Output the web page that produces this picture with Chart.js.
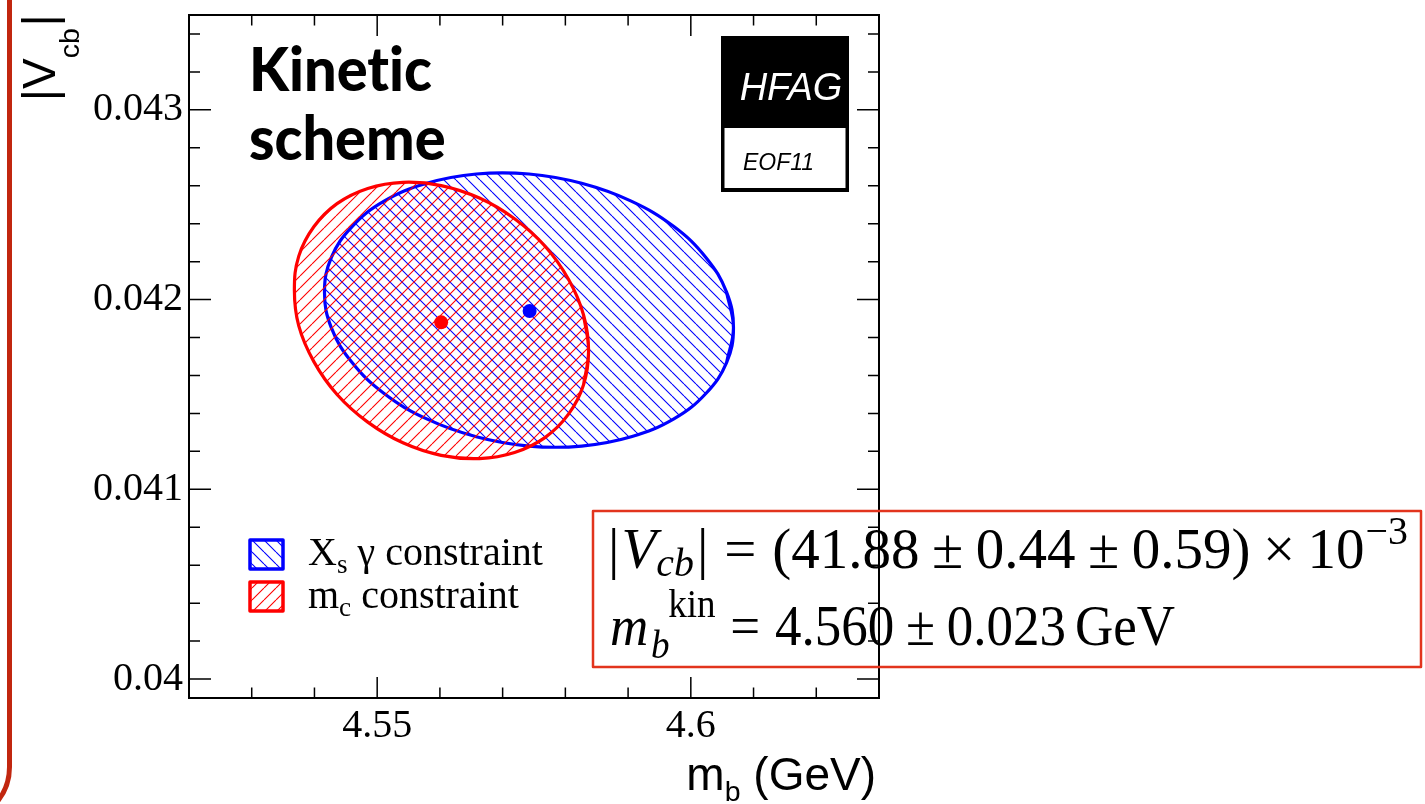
<!DOCTYPE html>
<html><head><meta charset="utf-8">
<script src="https://cdn.jsdelivr.net/npm/chart.js@4.4.1/dist/chart.umd.min.js"></script>
<style>html,body{margin:0;padding:0;background:#fff;}#wrap{position:relative;width:1425px;height:804px;overflow:hidden;background:#fff;}canvas{display:block;}</style>
</head><body><div id="wrap"><canvas id="c" width="1425" height="804"></canvas></div>
<script>
// ---------------- data ----------------
const mbRange = [4.52, 4.63];
const vcbRange = [0.0399, 0.0435];
const xMajorTicks = [4.55, 4.6];
const xTickLabels = ['4.55', '4.6'];
const xMinorTicks = [4.53, 4.54, 4.56, 4.57, 4.58, 4.59, 4.61, 4.62];
const yMajorTicks = [0.040, 0.041, 0.042, 0.043];
const yTickLabels = ['0.04', '0.041', '0.042', '0.043'];
const yMinorTicks = [0.0402, 0.0404, 0.0406, 0.0408, 0.0412, 0.0414, 0.0416, 0.0418,
                     0.0422, 0.0424, 0.0426, 0.0428, 0.0432, 0.0434];

// X_s gamma constraint contour (m_b, |Vcb|)
const xsGammaMb  = [4.6068, 4.6057, 4.6024, 4.5973, 4.5905, 4.5826, 4.5742, 4.5658,
                    4.5579, 4.5511, 4.5460, 4.5427, 4.5416, 4.5427, 4.5460, 4.5511,
                    4.5579, 4.5658, 4.5742, 4.5826, 4.5905, 4.5973, 4.6024, 4.6057];
const xsGammaVcb = [0.041851, 0.041668, 0.041505, 0.041371, 0.041277, 0.041228, 0.041228, 0.041277,
                    0.041371, 0.041505, 0.041668, 0.041851, 0.042039, 0.042222, 0.042385, 0.042519,
                    0.042613, 0.042662, 0.042662, 0.042613, 0.042519, 0.042385, 0.042222, 0.042039];
// m_c constraint contour
const mcMb  = [4.5837, 4.5829, 4.5805, 4.5768, 4.5719, 4.5663, 4.5602, 4.5541,
               4.5485, 4.5436, 4.5399, 4.5375, 4.5368, 4.5375, 4.5399, 4.5436,
               4.5485, 4.5541, 4.5602, 4.5663, 4.5719, 4.5768, 4.5805, 4.5829];
const mcVcb = [0.041730, 0.041551, 0.041396, 0.041274, 0.041194, 0.041162, 0.041179, 0.041245,
               0.041354, 0.041500, 0.041673, 0.041861, 0.042050, 0.042229, 0.042384, 0.042506,
               0.042586, 0.042618, 0.042601, 0.042535, 0.042426, 0.042280, 0.042107, 0.041919];
const xsGammaCenter = [4.5743, 0.04194];
const mcCenter = [4.5602, 0.04188];

// ---------------- styles ----------------
const BLUE = '#0000ff', RED = '#ff0000';
const SERIF = '"Liberation Serif","Times New Roman",serif';
const SANS = '"Liberation Sans",Arial,Helvetica,sans-serif';

function hatch(color, dir) {
  const s = 12, c = document.createElement('canvas');
  c.width = s; c.height = s;
  const g = c.getContext('2d');
  g.strokeStyle = color; g.lineWidth = 1.1;
  g.beginPath();
  for (const x0 of [-s, 0, s]) {
    if (dir === 'back') { g.moveTo(x0, 0); g.lineTo(x0 + s, s); }
    else { g.moveTo(x0, s); g.lineTo(x0 + s, 0); }
  }
  g.stroke();
  return document.createElement('canvas').getContext('2d').createPattern(c, 'repeat');
}
const blueHatch = hatch(BLUE, 'back');
const redHatch = hatch(RED, 'fwd');

function closedLoop(xs, ys) {
  const pts = xs.map((x, i) => ({x, y: ys[i]}));
  return [pts[pts.length - 1], ...pts, pts[0], pts[1]];
}

function layoutRuns(ctx, runs) {
  let x = 0; const items = [];
  for (const r of runs) {
    ctx.font = r.f; x += (r.gap || 0);
    items.push({r, x});
    if (!r.noAdv) x += ctx.measureText(r.t).width;
  }
  return {items, width: x};
}
function paintRuns(ctx, lay) {
  for (const {r, x} of lay.items) { ctx.font = r.f; ctx.fillText(r.t, x, r.dy || 0); }
}

// ---------------- plugins ----------------
const framePlugin = {
  id: 'frame',
  afterDatasetsDraw(chart) {
    const {ctx, chartArea: a, scales: {x, y}} = chart;
    ctx.save();
    ctx.strokeStyle = '#000'; ctx.lineWidth = 1.5;
    ctx.beginPath();
    const xt = (v, L) => { const p = x.getPixelForValue(v);
      ctx.moveTo(p, a.bottom); ctx.lineTo(p, a.bottom - L); ctx.moveTo(p, a.top); ctx.lineTo(p, a.top + L); };
    const yt = (v, L) => { const p = y.getPixelForValue(v);
      ctx.moveTo(a.left, p); ctx.lineTo(a.left + L, p); ctx.moveTo(a.right, p); ctx.lineTo(a.right - L, p); };
    xMajorTicks.forEach(v => xt(v, 21)); xMinorTicks.forEach(v => xt(v, 10.5));
    yMajorTicks.forEach(v => yt(v, 22)); yMinorTicks.forEach(v => yt(v, 11));
    ctx.stroke();
    ctx.lineWidth = 2;
    ctx.strokeRect(a.left, a.top, a.right - a.left, a.bottom - a.top);
    ctx.restore();
  }
};

const annoPlugin = {
  id: 'anno',
  afterDraw(chart) {
    const ctx = chart.ctx;
    ctx.save();
    ctx.textAlign = 'left'; ctx.textBaseline = 'alphabetic';
    // slide border
    ctx.strokeStyle = '#c1260f'; ctx.lineWidth = 5;
    ctx.beginPath(); ctx.moveTo(9.5, -5); ctx.lineTo(9.5, 767);
    ctx.arc(-45.5, 767, 55, 0, Math.PI / 2); ctx.stroke();

    // Kinetic scheme (ZWNJ avoids the "ti" ligature)
    ctx.fillStyle = '#000';
    ctx.font = '900 61px Lato, "Open Sans", sans-serif';
    const w1 = ctx.measureText('Kinet\u200Cic').width;
    const ks = 183 / w1;
    ctx.save(); ctx.translate(249, 91); ctx.scale(ks, 1);
    ctx.fillText('Kinet\u200Cic', 0, 0); ctx.fillText('scheme', 0, 69);
    ctx.restore();

    // HFAG logo
    ctx.fillStyle = '#000'; ctx.fillRect(721, 36, 128, 156);
    ctx.fillStyle = '#fff'; ctx.fillRect(724.5, 128, 121, 60);
    ctx.font = 'italic 38px ' + SANS; ctx.textAlign = 'center';
    ctx.fillText('HFAG', 791, 100);
    ctx.fillStyle = '#000'; ctx.textAlign = 'left';
    ctx.font = 'italic 23px ' + SANS;
    ctx.fillText('EOF11', 743, 170);

    // legend
    const boxes = [[BLUE, blueHatch, 540], [RED, redHatch, 582]];
    for (const [col, pat, top] of boxes) {
      ctx.fillStyle = pat; ctx.fillRect(250, top, 33, 29);
      ctx.strokeStyle = col; ctx.lineWidth = 3.5; ctx.lineJoin = 'round';
      ctx.strokeRect(250, top, 33, 29);
    }
    ctx.fillStyle = '#000';
    const L = 40;
    const leg1 = [{t: 'X', f: `${L}px ${SERIF}`}, {t: 's', f: `${L * 0.68}px ${SERIF}`, dy: 8},
                  {t: ' \u03b3 constraint', f: `${L}px ${SERIF}`}];
    const leg2 = [{t: 'm', f: `${L}px ${SERIF}`}, {t: 'c', f: `${L * 0.68}px ${SERIF}`, dy: 8},
                  {t: ' constraint', f: `${L}px ${SERIF}`}];
    ctx.save(); ctx.translate(308, 565); paintRuns(ctx, layoutRuns(ctx, leg1)); ctx.restore();
    ctx.save(); ctx.translate(308, 608); paintRuns(ctx, layoutRuns(ctx, leg2)); ctx.restore();

    // axis titles
    const T = 46;
    const ytitle = [{t: '|', f: `${T}px ${SANS}`}, {t: 'V', f: `${T}px ${SANS}`},
                    {t: 'cb', f: `${T * 0.62}px ${SANS}`, dy: 24}, {t: '|', f: `${T}px ${SANS}`, gap: 2}];
    ctx.save(); ctx.translate(55, 101); ctx.rotate(-Math.PI / 2);
    paintRuns(ctx, layoutRuns(ctx, ytitle)); ctx.restore();
    const xtitle = [{t: 'm', f: `${T}px ${SANS}`}, {t: 'b', f: `${T * 0.62}px ${SANS}`, dy: 11},
                    {t: ' (GeV)', f: `${T}px ${SANS}`}];
    let lay = layoutRuns(ctx, xtitle);
    ctx.save(); ctx.translate(876 - lay.width, 790); paintRuns(ctx, lay); ctx.restore();

    // result box
    ctx.strokeStyle = '#e2341d'; ctx.lineWidth = 2.5;
    ctx.strokeRect(593, 511, 828, 156);
    const F = 56;
    const R = `${F}px ${SERIF}`, I = `italic ${F}px ${SERIF}`;
    const Rs = `${F * 0.7}px ${SERIF}`, Is = `italic ${F * 0.7}px ${SERIF}`;
    const line1 = [{t: '|', f: R}, {t: 'V', f: I, gap: 2}, {t: 'cb', f: Is, dy: 8},
      {t: '|', f: R, gap: 3}, {t: '=', f: R, gap: 0.28 * F}, {t: '(', f: R, gap: 0.28 * F},
      {t: '41.88', f: R}, {t: '\u00b1', f: R, gap: 0.22 * F}, {t: '0.44', f: R, gap: 0.22 * F},
      {t: '\u00b1', f: R, gap: 0.22 * F}, {t: '0.59', f: R, gap: 0.22 * F}, {t: ')', f: R},
      {t: '\u00d7', f: R, gap: 0.22 * F}, {t: '10', f: R, gap: 0.22 * F},
      {t: '\u22123', f: Rs, dy: -0.42 * F, gap: 1}];
    const line2 = [{t: 'm', f: I}, {t: 'b', f: Is, dy: 0.24 * F, noAdv: true, gap: 3},
      {t: 'kin', f: Rs, dy: -0.5 * F, gap: 18}, {t: '=', f: R, gap: 0.28 * F},
      {t: '4.560', f: R, gap: 0.28 * F}, {t: '\u00b1', f: R, gap: 0.22 * F},
      {t: '0.023', f: R, gap: 0.22 * F}, {t: 'GeV', f: R, gap: 0.17 * F}];
    ctx.fillStyle = '#000';
    lay = layoutRuns(ctx, line1);
    ctx.save(); ctx.translate(608, 568); ctx.scale(800 / lay.width, 1); paintRuns(ctx, lay); ctx.restore();
    lay = layoutRuns(ctx, line2);
    ctx.save(); ctx.translate(610, 645); ctx.scale(565 / lay.width, 1); paintRuns(ctx, lay); ctx.restore();
    ctx.restore();
  }
};

// ---------------- chart ----------------
new Chart(document.getElementById('c'), {
  type: 'scatter',
  data: {
    datasets: [
      {label: 'Xs gamma centre', data: [{x: xsGammaCenter[0], y: xsGammaCenter[1]}],
       pointRadius: 7, pointBackgroundColor: BLUE, pointBorderWidth: 0, order: 1},
      {label: 'mc centre', data: [{x: mcCenter[0], y: mcCenter[1]}],
       pointRadius: 7, pointBackgroundColor: RED, pointBorderWidth: 0, order: 2},
      {label: 'm_c constraint', data: closedLoop(mcMb, mcVcb), showLine: true, fill: 'shape',
       backgroundColor: redHatch, borderColor: RED, borderWidth: 3.2, pointRadius: 0, tension: 0.4, order: 3},
      {label: 'X_s gamma constraint', data: closedLoop(xsGammaMb, xsGammaVcb), showLine: true, fill: 'shape',
       backgroundColor: blueHatch, borderColor: BLUE, borderWidth: 3.2, pointRadius: 0, tension: 0.4, order: 4}
    ]
  },
  options: {
    responsive: false, animation: false, devicePixelRatio: 1, events: [],
    layout: {padding: {left: 0, top: 15, right: 546, bottom: 0}},
    plugins: {legend: {display: false}, tooltip: {enabled: false}},
    scales: {
      x: {type: 'linear', min: mbRange[0], max: mbRange[1],
          grid: {display: false, drawTicks: false}, border: {display: false},
          afterBuildTicks: s => { s.ticks = xMajorTicks.map(v => ({value: v})); },
          afterFit: s => { s.height = 106; s.paddingLeft = 0; s.paddingRight = 0; },
          ticks: {autoSkip: false, maxRotation: 0, padding: 4, color: '#000',
                  font: {family: SERIF, size: 40}, callback: (v, i) => xTickLabels[i]}},
      y: {type: 'linear', min: vcbRange[0], max: vcbRange[1],
          grid: {display: false, drawTicks: false}, border: {display: false},
          afterBuildTicks: s => { s.ticks = yMajorTicks.map(v => ({value: v})); },
          afterFit: s => { s.width = 189; s.paddingTop = 0; s.paddingBottom = 0; },
          ticks: {autoSkip: false, padding: 6, color: '#000',
                  font: {family: SERIF, size: 40}, callback: (v, i) => yTickLabels[i]}}
    }
  },
  plugins: [framePlugin, annoPlugin]
});
</script></body></html>
